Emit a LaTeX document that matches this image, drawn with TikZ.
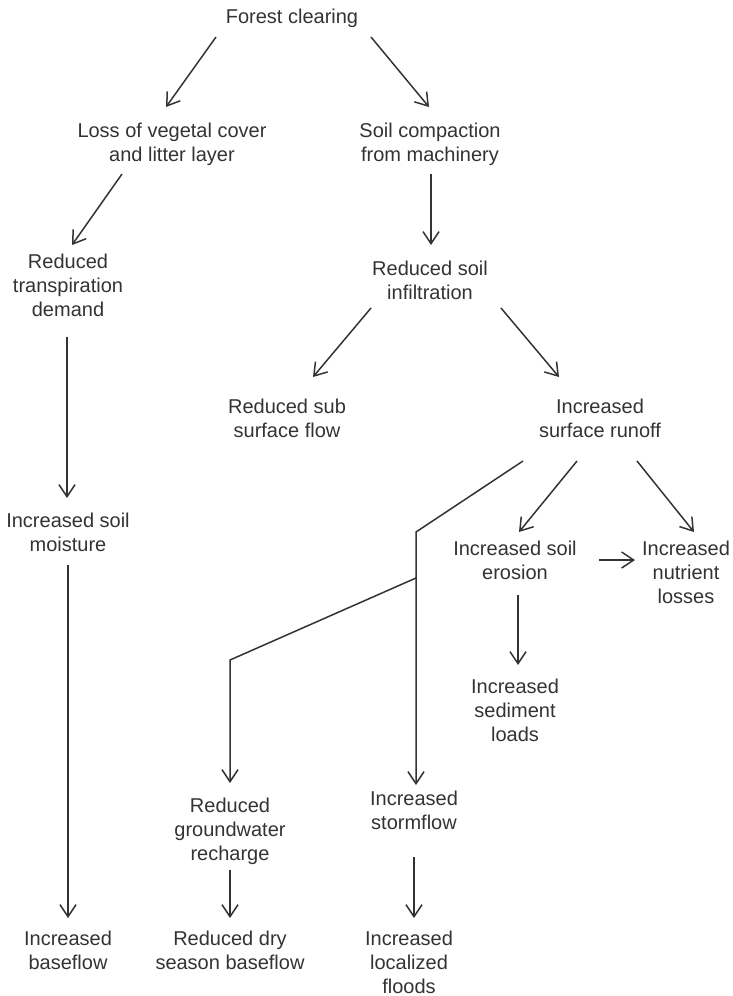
\documentclass[tikz,border=0pt]{standalone}
\usepackage{fontspec}
\setmainfont{Liberation Sans}
\usetikzlibrary{positioning, arrows.meta}

\begin{document}
\begin{tikzpicture}[x=1pt, y=-1pt, >={Straight Barb[length=12pt, width=16pt]},
    lbl/.style={align=center, inner sep=0pt, text=black!80, font=\fontsize{20}{24}\selectfont},
    link/.style={color=black!80, line width=1.5pt}]

    \useasboundingbox (0,0) rectangle (732,996);

    % Les causes
    \node[lbl, anchor=base] (clearing) at (292,23) {Forest clearing};
    \node[lbl, below left=138pt and 120pt of clearing.base, anchor=base] (cover) {Loss of vegetal cover\\and litter layer};
    \node[lbl, below right=138pt and 138pt of clearing.base, anchor=base] (compaction) {Soil compaction\\from machinery};
    \node[lbl, below left=155pt and 104pt of cover.base, anchor=base] (transpi) {Reduced\\transpiration\\demand};
    \node[lbl, below=138pt of compaction.base, anchor=base] (infiltr) {Reduced soil\\infiltration};
    \node[lbl, below left=138pt and 143pt of infiltr.base, anchor=base] (subflow) {Reduced sub\\surface flow};
    \node[lbl, below right=138pt and 170pt of infiltr.base, anchor=base] (runoff) {Increased\\surface runoff};
    \node[lbl, below=235pt of transpi.base, anchor=base] (moisture) {Increased soil\\moisture};
    \node[lbl, below left=142pt and 85pt of runoff.base, anchor=base] (erosion) {Increased soil\\erosion};
    \node[lbl, below right=24pt and 171pt of erosion.base, anchor=base] (nutrient) {Increased\\nutrient\\losses};
    \node[lbl, below=162pt of erosion.base, anchor=base] (sediment) {Increased\\sediment\\loads};

    % Les effets
    \node[lbl, below left=392pt and 186pt of runoff.base, anchor=base] (stormflow) {Increased\\stormflow};
    \node[lbl, below left=31pt and 184pt of stormflow.base, anchor=base] (recharge) {Reduced\\groundwater\\recharge};
    \node[lbl, below=418pt of moisture.base, anchor=base] (baseflow) {Increased\\baseflow};
    \node[lbl, below=109pt of recharge.base, anchor=base] (dryflow) {Reduced dry\\season baseflow};
    \node[lbl, below left=164pt and 5pt of stormflow.base, anchor=base] (floods) {Increased\\localized\\floods};

    % Les flèches
    \path[->, link]
    ([shift={(-76,14)}]clearing.base) edge ([shift={(-6,-54)}]cover.base)
    ([shift={(79,14)}]clearing.base) edge ([shift={(-1,-54)}]compaction.base)
    ([shift={(-50,13)}]cover.base) edge ([shift={(4,-71)}]transpi.base)
    ([shift={(1,13)}]compaction.base) edge ([shift={(1,-54)}]infiltr.base)
    ([shift={(-1,21)}]transpi.base) edge ([shift={(-1,-53)}]moisture.base)
    ([shift={(-59,9)}]infiltr.base) edge ([shift={(26,-60)}]subflow.base)
    ([shift={(71,9)}]infiltr.base) edge ([shift={(-41,-60)}]runoff.base)
    ([shift={(-23,24)}]runoff.base) edge ([shift={(4,-47)}]erosion.base)
    ([shift={(37,24)}]runoff.base) edge ([shift={(8,-71)}]nutrient.base)
    ([shift={(84,-19)}]erosion.base) edge ([shift={(-51,-43)}]nutrient.base)
    ([shift={(3,16)}]erosion.base) edge ([shift={(3,-76)}]sediment.base)
    ([shift={(0,14)}]moisture.base) edge ([shift={(0,-51)}]baseflow.base)
    ([shift={(0,10)}]recharge.base) edge ([shift={(0,-51)}]dryflow.base)
    ([shift={(0,28)}]stormflow.base) edge ([shift={(5,-75)}]floods.base);

    \draw[->, link] ([shift={(-77,24)}]runoff.base) -- ++(-107,71) coordinate (kink)
        -- ([shift={(2,-44)}]stormflow.base);
    \draw[->, link] ([shift={(0,46)}]kink) -- ++(-186,82) -- ([shift={(0,-77)}]recharge.base);

\end{tikzpicture}
\end{document}
